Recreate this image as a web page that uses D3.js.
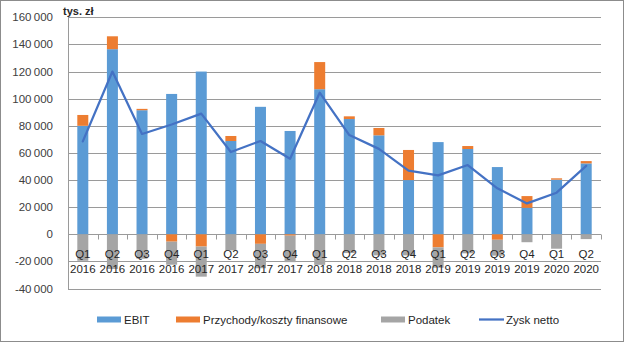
<!DOCTYPE html>
<html>
<head>
<meta charset="utf-8">
<script src="https://cdn.jsdelivr.net/npm/d3@7"></script>
<style>
  html, body { margin: 0; padding: 0; background: #fff; }
  svg { display: block; font-family: "Liberation Sans", Arial, sans-serif; }
</style>
</head>
<body>
<svg id="chart" width="625" height="343"></svg>
<script>
const quarters = ["Q1","Q2","Q3","Q4","Q1","Q2","Q3","Q4","Q1","Q2","Q3","Q4","Q1","Q2","Q3","Q4","Q1","Q2"];
const years = ["2016","2016","2016","2016","2017","2017","2017","2017","2018","2018","2018","2018","2019","2019","2019","2019","2020","2020"];
const ebit = [80000,136500,91500,103500,120000,68800,94000,76200,107000,85000,73000,40000,68000,62900,49600,19600,40300,52300];
const finansowe = [8000,9500,1000,-5400,-9000,3700,-7000,-1000,20000,2000,5400,22200,-9600,2200,-4000,8600,1000,1700];
const podatek = [-19500,-25500,-18000,-17000,-22200,-11800,-18000,-19500,-22500,-13800,-15500,-15500,-15000,-14000,-11700,-5800,-10600,-3500];
const zyskNetto = [68500,120000,74000,81000,89000,60700,68800,55700,104400,73200,63000,47000,43500,51100,33900,22800,30700,50500];
const yTicks = [-40000,-20000,0,20000,40000,60000,80000,100000,120000,140000,160000];
const seriesNames = ["EBIT","Przychody/koszty finansowe","Podatek","Zysk netto"];
const colors = {ebit:"#5B9BD5", fin:"#ED7D31", pod:"#A5A5A5", line:"#4472C4"};

(function () {
const svg = d3.select("#chart");
const mLeft = 68, mRight = 601, mTop = 17.3, mBottom = 288.6;

const idx = d3.range(quarters.length);
const x = d3.scaleBand().domain(idx).range([mLeft, mRight]).paddingInner(0).paddingOuter(0);
const y = d3.scaleLinear().domain([-40000, 160000]).range([mBottom, mTop]);

// outer border
svg.append("rect").attr("x",0.5).attr("y",0.5).attr("width",623).attr("height",341)
  .attr("fill","none").attr("stroke","#8c8c8c").attr("stroke-width",1);

// gridlines
svg.append("g").selectAll("line").data(yTicks).join("line")
  .attr("x1", mLeft).attr("x2", mRight)
  .attr("y1", d => Math.round(y(d)) + 0.5).attr("y2", d => Math.round(y(d)) + 0.5)
  .attr("stroke", "#9a9a9a").attr("stroke-width", 1);

// y axis line
svg.append("line").attr("x1", mLeft + 0.5).attr("x2", mLeft + 0.5)
  .attr("y1", Math.round(y(160000)) + 0.5).attr("y2", Math.round(y(-40000)) + 0.5)
  .attr("stroke", "#9a9a9a");

// y tick labels
const fmt = v => {
  const s = d3.format(",")(Math.abs(v)).replace(/,/g, "\u2009");
  return (v < 0 ? "-" : "") + s;
};
svg.append("g").selectAll("text").data(yTicks).join("text")
  .attr("x", 53).attr("y", d => y(d)).attr("dy", "0.35em")
  .attr("text-anchor", "end").attr("font-size", "11.5px").attr("fill", "#404040")
  .text(d => fmt(d));

// unit label
svg.append("text").attr("x", 63).attr("y", 15).attr("font-size", "11px")
  .attr("font-weight", "bold").attr("fill", "#262626").text("tys. zł");

// stacked bars
const table = idx.map(i => ({i, ebit: ebit[i], fin: finansowe[i], pod: podatek[i]}));
const stack = d3.stack().keys(["ebit","fin","pod"]).offset(d3.stackOffsetDiverging);
const stacked = stack(table);
const barW = 11;
const gBars = svg.append("g");
stacked.forEach(layer => {
  gBars.append("g").attr("fill", colors[layer.key]).selectAll("rect").data(layer).join("rect")
    .attr("x", d => x(d.data.i) + x.bandwidth() / 2 - barW / 2)
    .attr("width", barW)
    .attr("y", d => y(Math.max(d[0], d[1])))
    .attr("height", d => Math.abs(y(d[0]) - y(d[1])));
});

// zero-line ticks
const zeroY = Math.round(y(0)) + 0.5;
svg.append("g").selectAll("line").data(d3.range(quarters.length + 1)).join("line")
  .attr("x1", i => Math.round(mLeft + i * x.bandwidth()) + 0.5)
  .attr("x2", i => Math.round(mLeft + i * x.bandwidth()) + 0.5)
  .attr("y1", zeroY).attr("y2", zeroY + 5)
  .attr("stroke", "#9a9a9a");

// net profit line
const line = d3.line().x((d, i) => x(i) + x.bandwidth() / 2).y(d => y(d));
svg.append("path").datum(zyskNetto).attr("d", line)
  .attr("fill", "none").attr("stroke", colors.line).attr("stroke-width", 2.25)
  .attr("stroke-linejoin", "round").attr("stroke-linecap", "round");

// category labels
const gCat = svg.append("g").attr("font-size", "11.5px").attr("fill", "#262626").attr("text-anchor", "middle");
gCat.selectAll("text.q").data(idx).join("text").attr("class", "q")
  .attr("x", i => x(i) + x.bandwidth() / 2).attr("y", 257.5).text(i => quarters[i]);
gCat.selectAll("text.yr").data(idx).join("text").attr("class", "yr")
  .attr("x", i => x(i) + x.bandwidth() / 2).attr("y", 273).text(i => years[i]);

// legend
const legend = svg.append("g").attr("font-size", "11.5px").attr("fill", "#262626");
const legItems = [
  {name: seriesNames[0], color: colors.ebit, type: "rect", x: 97},
  {name: seriesNames[1], color: colors.fin, type: "rect", x: 176},
  {name: seriesNames[2], color: colors.pod, type: "rect", x: 381},
  {name: seriesNames[3], color: colors.line, type: "line", x: 479}
];
legItems.forEach(it => {
  if (it.type === "rect") {
    legend.append("rect").attr("x", it.x).attr("y", 316.5).attr("width", 24).attr("height", 6).attr("fill", it.color);
  } else {
    legend.append("line").attr("x1", it.x).attr("x2", it.x + 25).attr("y1", 319.5).attr("y2", 319.5)
      .attr("stroke", it.color).attr("stroke-width", 2.25);
  }
  legend.append("text").attr("x", it.x + 27).attr("y", 324).text(it.name);
});
})();
</script>
</body>
</html>
